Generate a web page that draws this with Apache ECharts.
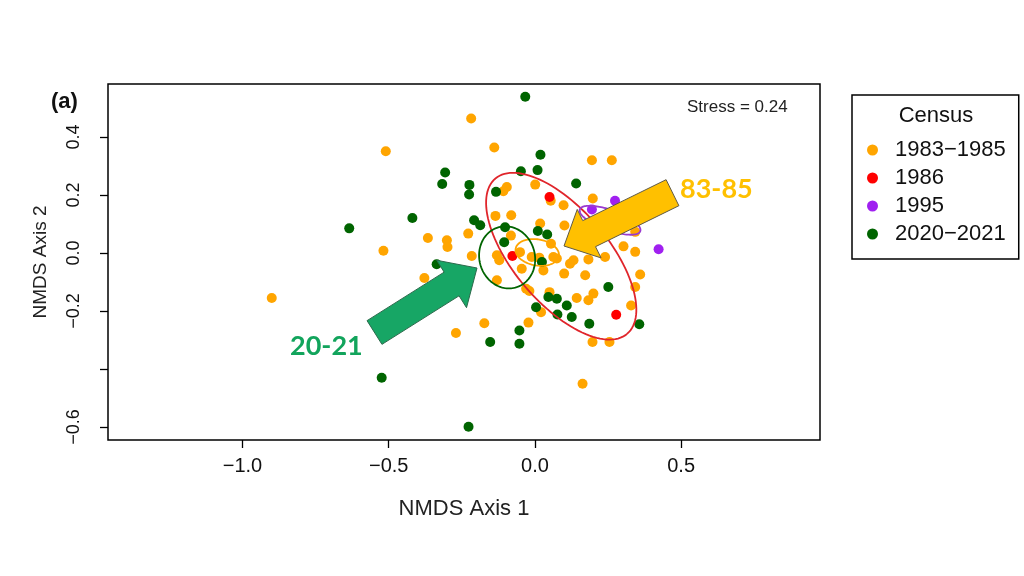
<!DOCTYPE html>
<html><head><meta charset="utf-8">
<script src="https://cdn.jsdelivr.net/npm/echarts@6/dist/echarts.min.js"></script>
<style>html,body{margin:0;padding:0;background:#fff}#chart{width:1024px;height:576px}</style>
</head><body><div id="chart"></div>
<script>
const censusNames = ['1983\u22121985', '1986', '1995', '2020\u22122021'];

const pts1983 = [
  [-0.218,0.464],[-0.510,0.351],[-0.139,0.364],[-0.096,0.228],[-0.108,0.213],[0.001,0.236],
  [0.054,0.180],[0.098,0.165],[-0.135,0.128],[-0.081,0.130],[-0.082,0.060],[0.018,0.102],
  [0.101,0.095],[0.055,0.032],[-0.366,0.052],[-0.301,0.044],[-0.299,0.021],[-0.228,0.067],
  [-0.518,0.008],[-0.216,-0.010],[-0.051,0.003],[-0.011,-0.014],[0.015,-0.016],[0.063,-0.014],
  [-0.130,-0.008],[-0.122,-0.025],[-0.045,-0.054],[0.029,-0.060],[-0.130,-0.094],[-0.030,-0.123],
  [-0.019,-0.131],[0.021,-0.204],[-0.173,-0.242],[-0.022,-0.240],[-0.270,-0.276],[-0.378,-0.086],
  [0.163,-0.451],[0.143,-0.155],[0.183,-0.163],[0.050,-0.135],[0.100,-0.071],[0.120,-0.037],
  [0.132,-0.025],[0.172,-0.077],[0.195,0.320],[0.263,0.320],[0.198,0.188],[0.343,0.073],
  [0.303,0.023],[0.343,0.004],[0.240,-0.014],[0.183,-0.022],[0.075,-0.019],[0.360,-0.074],
  [0.343,-0.117],[0.200,-0.140],[0.329,-0.181],[0.197,-0.307],[0.255,-0.307],[-0.900,-0.155]
];
const pts1986 = [[0.050,0.193],[-0.077,-0.010],[0.278,-0.213]];
const pts1995 = [[0.195,0.150],[0.274,0.180],[0.423,0.013]];
const pts2020 = [
  [-0.033,0.539],[0.019,0.339],[-0.307,0.278],[-0.317,0.238],[-0.048,0.282],[0.009,0.286],
  [0.141,0.240],[-0.224,0.235],[-0.225,0.202],[-0.133,0.211],[-0.419,0.121],[-0.635,0.085],
  [-0.208,0.113],[-0.187,0.096],[-0.102,0.089],[-0.105,0.037],[0.010,0.076],[0.042,0.064],
  [0.024,-0.031],[0.046,-0.152],[0.075,-0.158],[0.004,-0.187],[0.077,-0.212],[-0.153,-0.307],
  [-0.053,-0.267],[-0.053,-0.313],[-0.336,-0.039],[-0.524,-0.430],[-0.227,-0.599],[0.109,-0.181],
  [0.126,-0.221],[0.186,-0.244],[0.251,-0.117],[0.357,-0.246]
];

// ellipse: [centre x, centre y, semi-major, semi-minor, angle in degrees]
const ellipse1983 = [0.008, 0.002, 0.075, 0.045, -10];
const ellipse1986 = [0.090, -0.011, 0.350, 0.162, -50];
const ellipse1995 = [0.257, 0.113, 0.110, 0.035, -20];
const ellipse2020 = [-0.095, -0.015, 0.108, 0.095, -75];

const xTicks = [-1.0, -0.5, 0.0, 0.5];
const yTicks = [-0.6, -0.4, -0.2, 0.0, 0.2, 0.4];
const yTickLabels = [-0.6, -0.2, 0.0, 0.2, 0.4];

const colors = ['#FFA500', '#FF0000', '#A020F0', '#006400'];
const FONT = 'Liberation Sans';

function fmt(v){ return (v < 0 ? '\u2212' : '') + Math.abs(v).toFixed(1); }

function ellipseSeries(name, params, color){
  return {
    type: 'custom', name: name, data: [params], z: 5, silent: true,
    encode: { x: 0, y: 1 },
    renderItem: function(p, api){
      const cx = api.value(0), cy = api.value(1), a = api.value(2), b = api.value(3);
      const ang = api.value(4) * Math.PI / 180;
      const pts = [];
      for (let i = 0; i <= 120; i++) {
        const t = i / 120 * 2 * Math.PI;
        const ex = a * Math.cos(t), ey = b * Math.sin(t);
        pts.push(api.coord([cx + ex * Math.cos(ang) - ey * Math.sin(ang),
                            cy + ex * Math.sin(ang) + ey * Math.cos(ang)]));
      }
      return { type: 'polyline', shape: { points: pts },
               style: { stroke: color, fill: null, lineWidth: 1.8 } };
    }
  };
}

function arrowPoints(tail, tip, sw, hw, hl){
  const dx = tip[0]-tail[0], dy = tip[1]-tail[1], L = Math.hypot(dx, dy);
  const ux = dx/L, uy = dy/L, px = -uy, py = ux;
  const bx = tip[0]-ux*hl, by = tip[1]-uy*hl;
  return [[tail[0]+px*sw, tail[1]+py*sw], [bx+px*sw, by+py*sw], [bx+px*hw, by+py*hw], tip,
          [bx-px*hw, by-py*hw], [bx-px*sw, by-py*sw], [tail[0]-px*sw, tail[1]-py*sw]];
}

const chart = echarts.init(document.getElementById('chart'), null, { renderer: 'canvas' });

const pointSets = [pts1983, pts1986, pts1995, pts2020];
const scatterSeries = pointSets.map((d, i) => ({
  type: 'scatter', name: censusNames[i], data: d, symbol: 'circle', symbolSize: 10,
  itemStyle: { color: colors[i], opacity: 1 }, z: 3
}));

chart.setOption({
  animation: false,
  backgroundColor: '#fff',
  grid: { left: 108, top: 84, right: 204, bottom: 136, show: true, borderColor: '#000', borderWidth: 1.5, containLabel: false },
  xAxis: {
    type: 'value', min: -1.46, max: 0.975,
    axisLine: { show: false, onZero: false }, splitLine: { show: false },
    axisTick: { show: true, length: 8, customValues: xTicks, lineStyle: { color: '#000', width: 1.3 } },
    axisLabel: { customValues: xTicks, formatter: fmt, fontSize: 20, fontFamily: FONT, color: '#111', margin: 16 },
    name: 'NMDS Axis 1', nameLocation: 'middle', nameGap: 58,
    nameTextStyle: { fontSize: 22, fontFamily: FONT, color: '#222' }
  },
  yAxis: {
    type: 'value', min: -0.645, max: 0.583,
    axisLine: { show: false, onZero: false }, splitLine: { show: false },
    axisTick: { show: true, length: 8, customValues: yTicks, lineStyle: { color: '#000', width: 1.3 } },
    axisLabel: { customValues: yTickLabels, formatter: fmt, rotate: 90, fontSize: 18, fontFamily: FONT, color: '#111', margin: 25 },
    name: 'NMDS Axis 2', nameLocation: 'middle', nameGap: 58, nameRotate: 90,
    nameTextStyle: { fontSize: 19, fontFamily: FONT, color: '#222' }
  },
  legend: {
    data: censusNames, left: 852, top: 95, orient: 'vertical', icon: 'circle',
    itemWidth: 11, itemHeight: 11, itemGap: 6,
    padding: [44, 13, 14, 15], borderColor: '#000', borderWidth: 1.5,
    textStyle: { fontSize: 22, lineHeight: 22, fontFamily: FONT, color: '#111', padding: [0, 0, 0, 12] },
    selectedMode: false
  },
  series: scatterSeries.concat([
    ellipseSeries('e1983', ellipse1983, colors[0]),
    ellipseSeries('e1986', ellipse1986, '#E0252B'),
    ellipseSeries('e1995', ellipse1995, '#9A3BD0'),
    ellipseSeries('e2020', ellipse2020, colors[3])
  ]),
  graphic: [
    { type: 'text', left: 51, top: 91, z: 10, style: { text: '(a)', font: 'bold 22px "Liberation Sans"', fill: '#111' } },
    { type: 'text', left: 687, top: 99, z: 10, style: { text: 'Stress = 0.24', font: '17px "Liberation Sans"', fill: '#222' } },
    { type: 'text', x: 936, y: 116, z: 10, style: { text: 'Census', font: '22px "Liberation Sans"', fill: '#111', align: 'center', verticalAlign: 'middle' } },
    { type: 'polygon', z: 20, shape: { points: arrowPoints([672.5, 192.7], [564, 246], 14.5, 27, 28) },
      style: { fill: '#FFC000', stroke: '#5f5a45', lineWidth: 1 } },
    { type: 'polygon', z: 20, shape: { points: arrowPoints([374.5, 332.5], [477, 268], 14, 28, 30) },
      style: { fill: '#17A665', stroke: '#2c6a4c', lineWidth: 1 } },
    { type: 'text', left: 680, top: 176, z: 21, style: { text: '83-85', font: 'bold 27px Lato', fill: '#FFC000' } },
    { type: 'text', left: 290, top: 333, z: 21, style: { text: '20-21', font: 'bold 27px Lato', fill: '#12A45C' } }
  ]
});
</script>
</body></html>
